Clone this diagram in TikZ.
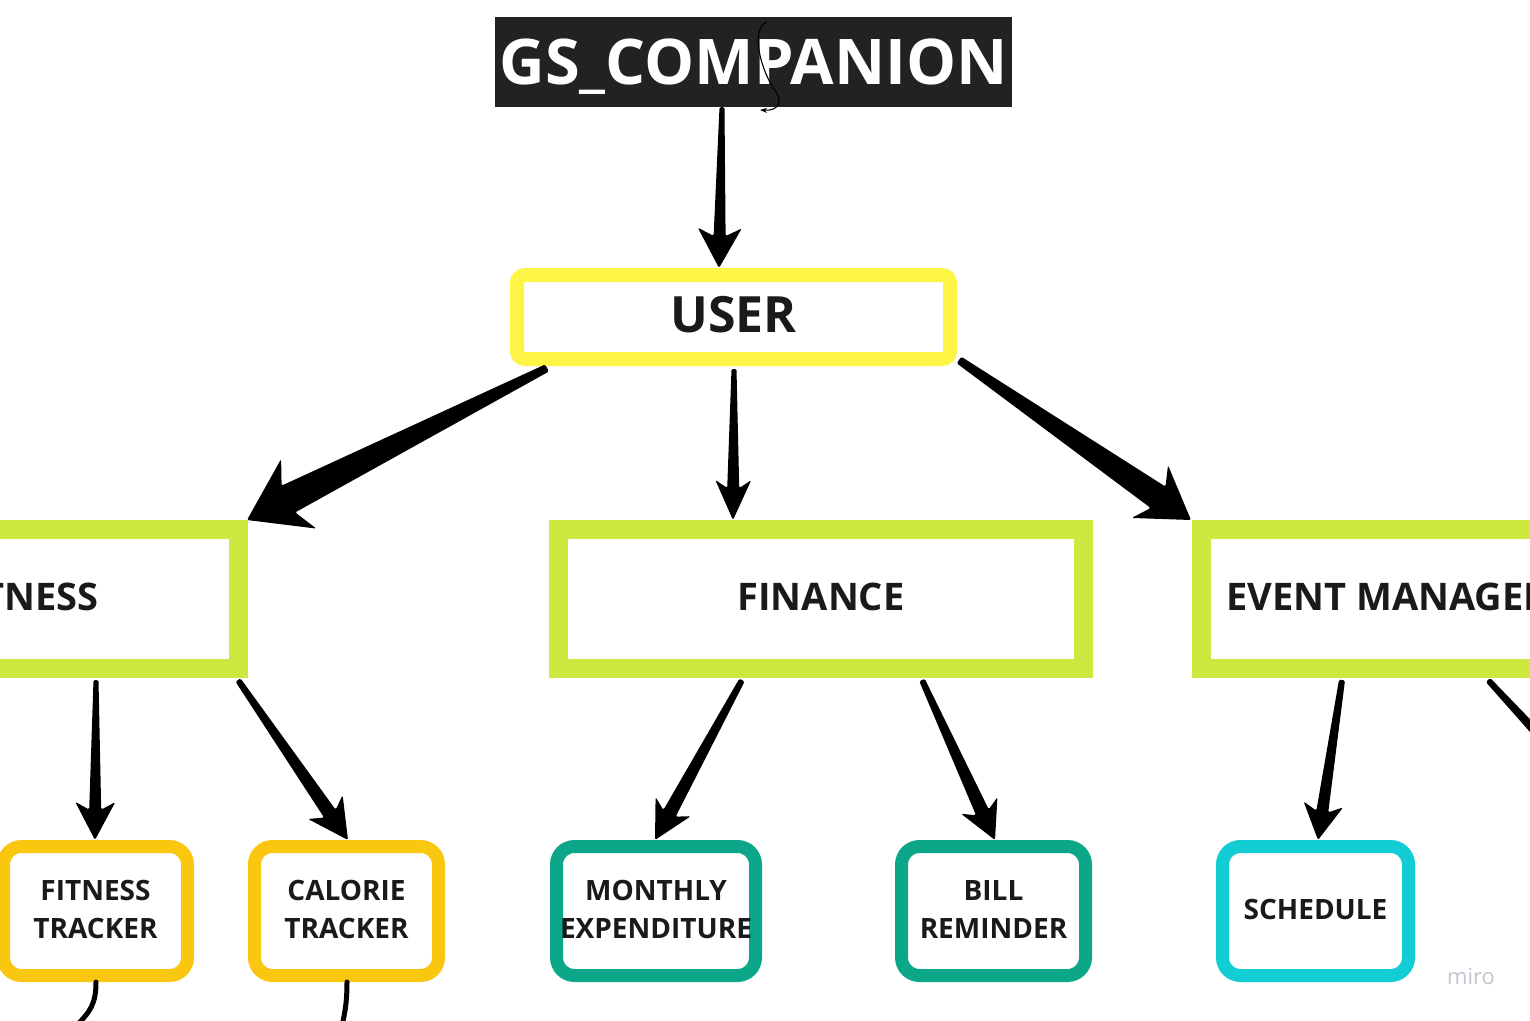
\documentclass[tikz,border=0pt]{standalone}
\usepackage{fontspec}
\setmainfont{Open Sans}
\usetikzlibrary{calc,arrows.meta}
\definecolor{titlebg}{HTML}{222222}
\definecolor{useryellow}{HTML}{FEF445}
\definecolor{limebox}{HTML}{CEE741}
\definecolor{goldbox}{HTML}{FAC710}
\definecolor{tealbox}{HTML}{0CA789}
\definecolor{cyanbox}{HTML}{12CDD4}
\definecolor{ink}{HTML}{1A1A1A}
\definecolor{mirogray}{HTML}{C4C4CE}
\tikzset{
  bigbox/.style={draw=limebox, line width=19pt, fill=white, inner sep=0pt,
    minimum height=139pt, text=ink, text depth=4pt,
    font={\fontsize{38}{38}\selectfont\bfseries}},
  leafbox/.style={draw=#1, line width=13pt, fill=white, inner sep=0pt,
    rounded corners=18pt, minimum height=129pt, align=center, text=ink,
    text depth=4pt, font={\fontsize{28}{38}\selectfont\bfseries}},
  arrowbody/.style={fill=black, rounded corners=1.5pt},
  curveline/.style={draw=black, line width=5pt, line cap=round},
}
\newcommand{\taper}[6]{%
  \coordinate (ta-s) at (#1);
  \coordinate (ta-e) at (#2);
  \pgfmathsetmacro\tajl{0.8*#6}%
  \coordinate (ta-h) at ($(ta-e)!#6pt!(ta-s)$);
  \coordinate (ta-j) at ($(ta-e)!\tajl pt!(ta-s)$);
  \fill[arrowbody] ($(ta-s)!#3!90:(ta-e)$) -- ($(ta-j)!#4!90:(ta-e)$)
    -- ($(ta-h)!#5!90:(ta-e)$) -- (ta-e) -- ($(ta-h)!#5!-90:(ta-e)$)
    -- ($(ta-j)!#4!-90:(ta-e)$) -- ($(ta-s)!#3!-90:(ta-e)$) -- cycle;
}
\begin{document}
\begin{tikzpicture}[x=1pt, y=-1pt]
\useasboundingbox (0,0) rectangle (1530,1020);
\fill[white] (0,0) rectangle (1530,1020);
\clip (0,0) rectangle (1530,1020);

% title
\node[fill=titlebg, minimum width=517pt, minimum height=90pt, inner sep=0pt,
  text=white, text depth=0pt, font={\fontsize{63}{63}\selectfont\bfseries}]
  (title) at (753.5,62) {GS\_COMPANION};
\coordinate (cstart) at (767,22);
\coordinate (cend) at (760,110);
\draw[black, line width=1.1pt, -{Stealth[length=7pt,width=5pt]}]
  (cstart) .. controls (750,28) and (760,70) .. (776,92)
  .. controls (783,102) and (778,111) .. (cend);

% user
\node[draw=useryellow, line width=14pt, fill=white, rounded corners=8pt,
  minimum width=433pt, minimum height=84pt, inner sep=0pt, text=ink,
  text depth=6pt, font={\fontsize{50}{50}\selectfont\bfseries}]
  (user) at (733.5,317) {USER};

% second level
\node[bigbox, minimum width=429pt] (fitness) at (24,599) {FITNESS};
\node[bigbox, minimum width=525pt] (finance) at (821,599) {FINANCE};
\node[bigbox, minimum width=457pt] (event) at (1430,599) {EVENT MANAGEMENT};

% leaves
\node[leafbox=goldbox, minimum width=184pt] (ftrack) at (95.5,911) {FITNESS\\TRACKER};
\node[leafbox=goldbox, minimum width=184pt] (calorie) at (346.5,911) {CALORIE\\TRACKER};
\node[leafbox=tealbox, minimum width=199pt] (monthly) at (656,911) {MONTHLY\\EXPENDITURE};
\node[leafbox=tealbox, minimum width=184pt] (bill) at (993.5,911) {BILL\\REMINDER};
\node[leafbox=cyanbox, minimum width=186pt] (schedule) at (1315.5,911) {SCHEDULE};
\coordinate (offtip) at (1634,838);

% arrows
\taper{[xshift=-31.5pt]title.south}{[xshift=-14.5pt]user.north}{2.5pt}{6pt}{22pt}{40}
\taper{[xshift=-186.5pt,yshift=-2pt]user.south}{[xshift=-1pt]fitness.north east}{4pt}{15pt}{39pt}{58}
\taper{[xshift=0.5pt,yshift=-3pt]user.south}{[xshift=-88pt]finance.north}{2.5pt}{6pt}{18pt}{40}
\taper{[xshift=2pt,yshift=6pt]user.south east}{[xshift=-1pt]event.north west}{4pt}{13pt}{32pt}{50}
\taper{[xshift=72pt,yshift=-2pt]fitness.south}{[xshift=-0.5pt]ftrack.north}{2.5pt}{6pt}{20pt}{38}
\taper{[xshift=-10pt,yshift=-2pt]fitness.south east}{[xshift=1.5pt]calorie.north}{3pt}{7pt}{21pt}{40}
\taper{[xshift=-79pt,yshift=-2pt]finance.south}{[xshift=-1pt]monthly.north}{3pt}{7pt}{20pt}{38}
\taper{[xshift=101pt,yshift=-2pt]finance.south}{[xshift=1.5pt]bill.north}{3pt}{7pt}{20pt}{38}
\taper{[xshift=-88pt,yshift=-2pt]event.south}{[xshift=2.5pt]schedule.north}{3pt}{6pt}{20pt}{36}
\taper{[xshift=58pt,yshift=-2pt]event.south}{offtip}{3pt}{7pt}{20pt}{38}

% dangling curves
\coordinate (fend) at (76,1026);
\coordinate (cend2) at (342,1026);
\draw[curveline] ([xshift=0.5pt]ftrack.south) .. controls (96,1004) and (90,1012) .. (fend);
\draw[curveline] ([xshift=0.5pt]calorie.south) .. controls (347,1002) and (345,1012) .. (cend2);

% watermark
\node[text=mirogray, font={\fontsize{22}{22}\selectfont}, inner sep=0pt] (miro) at (1471,977) {miro};
\end{tikzpicture}
\end{document}
